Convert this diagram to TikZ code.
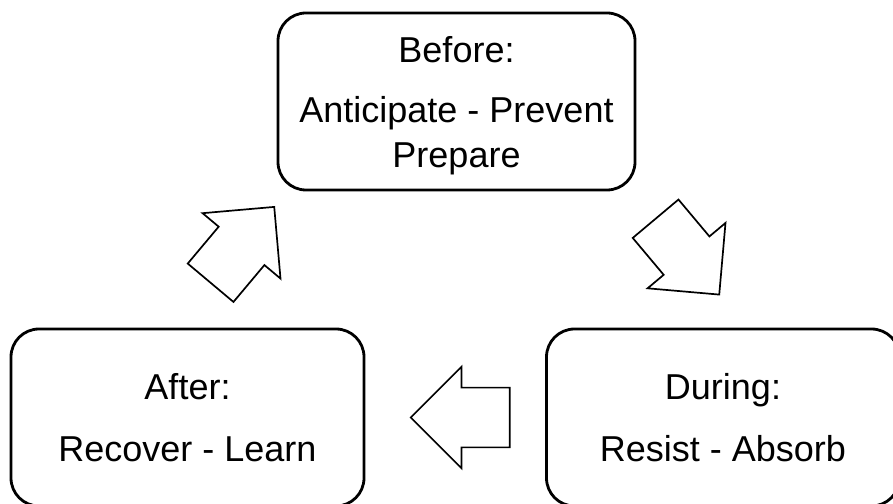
\documentclass[tikz,border=0pt]{standalone}
\usepackage{fontspec}
\setmainfont{Liberation Sans}
\usepackage{tikz}
\usetikzlibrary{shapes.arrows}
\tikzset{% 
    box/.style={draw,line width=2.8pt,rounded corners=28pt,minimum width=353pt,minimum height=177pt,align=center,font=\fontsize{36pt}{45pt}\selectfont}
}

\begin{document}
\begin{tikzpicture}[
            x=1pt,y=1pt,
            blk/.style={single arrow,draw,line width=1.7pt,minimum height=99pt,inner xsep=0pt,inner ysep=29pt,single arrow head extend=21pt,single arrow tip angle=90,single arrow head indent=0pt,anchor=tip}
            ]
            \useasboundingbox (0,0) rectangle (893,503);
            \node[box,minimum width=357pt,text depth=0pt] (bef) at (456.5,401.5){Before:\\[15pt]Anticipate - Prevent\\Prepare};
            \node[box] (dur) at (723,85.5){During:\\[17pt]Resist - Absorb};
            \node[box] (aft) at (187.5,85.5){After:\\[17pt]Recover - Learn};
            \node[blk,rotate=50] (a1) at (275,297){};
            \node[blk,rotate=-50] (a2) at (720,207.5){};
            \node[blk,rotate=180] (a3) at (409.5,85.5){};
        \end{tikzpicture}
\end{document}
